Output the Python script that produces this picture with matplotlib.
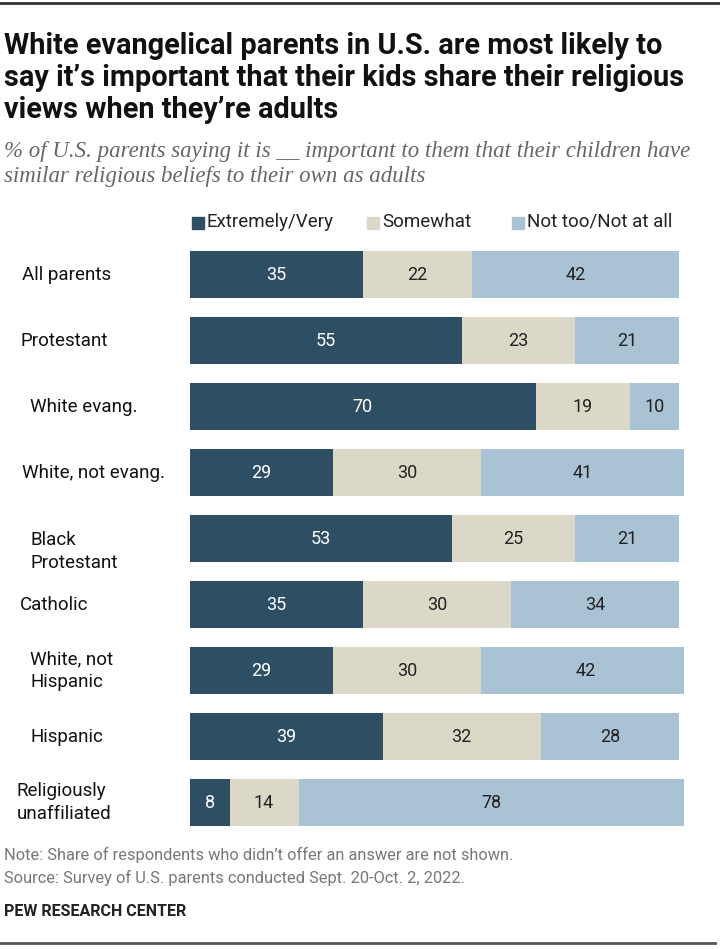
import matplotlib
matplotlib.use("Agg")
import matplotlib.pyplot as plt
from matplotlib.patches import Rectangle
from matplotlib.lines import Line2D

categories = ["All parents", "Protestant", "White evang.", "White, not evang.",
              "Black\nProtestant", "Catholic", "White, not\nHispanic", "Hispanic",
              "Religiously\nunaffiliated"]
extremely_very = [35, 55, 70, 29, 53, 35, 29, 39, 8]
somewhat = [22, 23, 19, 30, 25, 30, 30, 32, 14]
not_too = [42, 21, 10, 41, 21, 34, 42, 28, 78]
series_names = ["Extremely/Very", "Somewhat", "Not too/Not at all"]

colors = ["#2e4f63", "#dcd8c8", "#a9c2d4"]
text_colors = ["white", "#222222", "#222222"]

# layout: label left positions (px) and vertical nudges (px)
label_x_px = [22, 20, 30, 22, 31, 20, 30, 30, 17]
label_dy_px = [0, 0, 0, 0, 13, 0, 0, 0, 0]

SANS = ["Roboto", "DejaVu Sans"]
plt.rcParams['font.family'] = SANS

W, H = 720, 949
fig = plt.figure(figsize=(W / 100, H / 100), dpi=100)

def fx(px):
    return px / W

def fy(py):
    return 1 - py / H

# top and bottom rules
fig.add_artist(Line2D([fx(0), fx(720)], [fy(3), fy(3)], color="#333333", lw=2))
fig.add_artist(Line2D([fx(0), fx(715)], [fy(943), fy(943)], color="#555555", lw=2))

# title
fig.text(fx(4), fy(78), "White evangelical parents in U.S. are most likely to\n"
         "say it\u2019s important that their kids share their religious\n"
         "views when they\u2019re adults",
         fontsize=20.8, fontweight="bold", color="#111111", va="center", ha="left",
         linespacing=1.2)

fig.text(fx(4), fy(164), "% of U.S. parents saying it is __ important to them that their children have\n"
         "similar religious beliefs to their own as adults",
         fontsize=16.5, style="italic", color="#666666", va="center", ha="left",
         linespacing=1.25, family=["Liberation Serif", "DejaVu Serif"])

# axes
ax = fig.add_axes([fx(190), fy(835.5), fx(684) - fx(190), (835.5 - 241.5) / H])
ypos = list(range(len(categories)))
left = [0] * len(categories)
for vals, c, tc in zip([extremely_very, somewhat, not_too], colors, text_colors):
    ax.barh(ypos, vals, left=left, height=0.7, color=c, edgecolor="none")
    for y, v, l in zip(ypos, vals, left):
        ax.text(l + v / 2, y, str(v), ha="center", va="center", color=tc, fontsize=13)
    left = [a + b for a, b in zip(left, vals)]
ax.set_xlim(0, 100)
ax.set_ylim(len(categories) - 0.5, -0.5)
ax.axis("off")

# category labels
for y, cat, lx, dy in zip(ypos, categories, label_x_px, label_dy_px):
    fig.text(fx(lx), fy(274.5 + 66 * y + dy), cat, ha="left", va="center", fontsize=13.5,
             color="#111111", linespacing=1.3)

# legend
leg_x = [192, 367, 512]
for x, name, c in zip(leg_x, series_names, colors):
    fig.add_artist(Rectangle((fx(x), fy(229)), fx(12), 12 / H, color=c, transform=fig.transFigure))
    fig.text(fx(x + 15), fy(222), name, fontsize=13.5, color="#222222", va="center", ha="left")

# notes
fig.text(fx(4), fy(855), "Note: Share of respondents who didn\u2019t offer an answer are not shown.",
         fontsize=11.8, color="#777777", va="center", ha="left")
fig.text(fx(4), fy(878), "Source: Survey of U.S. parents conducted Sept. 20-Oct. 2, 2022.",
         fontsize=11.8, color="#777777", va="center", ha="left")
fig.text(fx(4), fy(912), "PEW RESEARCH CENTER", fontsize=11.5, fontweight="bold",
         color="#222222", va="center", ha="left")

fig.savefig("out.png", dpi=100)
